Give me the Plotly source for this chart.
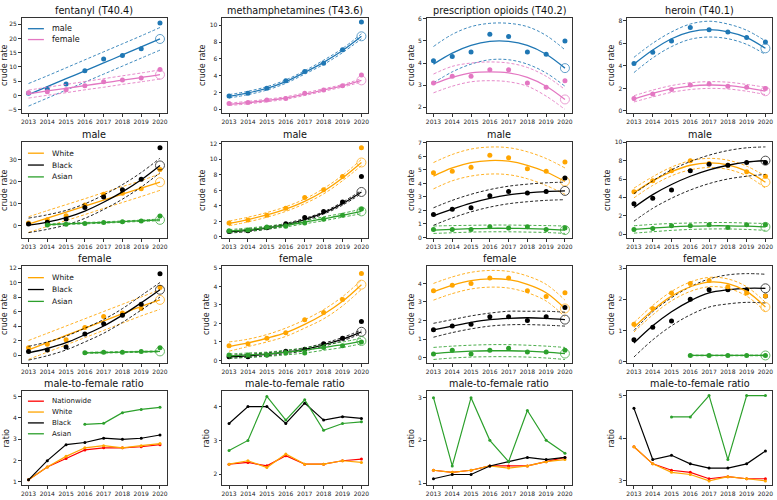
import plotly.graph_objects as go
from plotly.subplots import make_subplots

years = [2013, 2014, 2015, 2016, 2017, 2018, 2019, 2020]
years_16 = [2016, 2017, 2018, 2019, 2020]
years_15 = [2015, 2016, 2017, 2018, 2019, 2020]
years_14 = [2014, 2015, 2016, 2017, 2018, 2019, 2020]

BLUE = '#1f77b4'; PINK = '#e377c2'; ORANGE = '#ffa500'; BLACK = '#000000'
GREEN = '#2ca02c'; RED = '#ff0000'

col_titles = ['fentanyl (T40.4)', 'methamphetamines (T43.6)', 'prescription opioids (T40.2)', 'heroin (T40.1)']
row_titles = ['male', 'female', 'male-to-female ratio']

# ---------- Row 1: male / female ----------
fen_m_pts = [0.8, 2.3, 4.0, 8.7, 12.8, 14.0, 16.4, 25.4]
fen_m_fit = [0.3, 3.1, 5.9, 8.6, 11.4, 14.2, 17.0, 19.8]
fen_m_lo = [-3.7, -0.9, 1.9, 4.7, 7.5, 10.3, 13.1, 15.9]
fen_m_hi = [4.2, 6.9, 9.7, 12.5, 15.3, 18.1, 20.9, 23.8]
fen_f_pts = [1.0, 1.3, 2.0, 3.4, 4.8, 5.4, 6.1, 9.1]
fen_f_fit = [0.6, 1.6, 2.5, 3.5, 4.4, 5.4, 6.3, 7.3]
fen_f_lo = [-0.9, 0.1, 1.0, 2.0, 2.9, 3.9, 4.8, 5.8]
fen_f_hi = [1.9, 2.9, 3.9, 4.9, 5.9, 6.9, 7.9, 9.0]

met_m_pts = [1.6, 1.9, 2.5, 3.4, 4.5, 5.5, 7.1, 10.4]
met_m_fit = [1.55, 1.95, 2.5, 3.3, 4.4, 5.6, 7.0, 8.7]
met_m_lo = [1.35, 1.75, 2.3, 3.1, 4.2, 5.35, 6.75, 8.4]
met_m_hi = [1.75, 2.15, 2.7, 3.5, 4.6, 5.85, 7.25, 9.0]
met_f_pts = [0.7, 0.8, 1.1, 1.3, 1.9, 2.3, 2.8, 4.1]
met_f_fit = [0.6, 0.8, 1.05, 1.35, 1.8, 2.3, 2.8, 3.45]
met_f_lo = [0.45, 0.65, 0.9, 1.2, 1.65, 2.15, 2.65, 3.25]
met_f_hi = [0.75, 0.95, 1.2, 1.5, 1.95, 2.45, 2.95, 3.65]

rx_m_pts = [4.1, 4.3, 4.5, 5.3, 5.2, 4.5, 4.4, 5.0]
rx_m_fit = [3.95, 4.45, 4.8, 4.98, 4.98, 4.8, 4.4, 3.77]
rx_m_lo = [3.1, 3.6, 3.95, 4.15, 4.15, 3.95, 3.55, 2.95]
rx_m_hi = [4.75, 5.3, 5.65, 5.8, 5.8, 5.65, 5.25, 4.6]
rx_f_pts = [3.1, 3.4, 3.4, 3.7, 3.7, 3.1, 2.9, 3.2]
rx_f_fit = [3.05, 3.35, 3.55, 3.6, 3.55, 3.35, 2.95, 2.35]
rx_f_lo = [2.65, 2.95, 3.15, 3.2, 3.15, 2.95, 2.5, 1.9]
rx_f_hi = [3.5, 3.85, 4.0, 4.05, 4.0, 3.8, 3.4, 2.8]

her_m_pts = [4.2, 5.2, 6.2, 7.4, 7.2, 7.0, 6.5, 6.1]
her_m_fit = [4.15, 5.4, 6.4, 7.0, 7.2, 7.0, 6.5, 5.55]
her_m_lo = [3.4, 4.7, 5.7, 6.35, 6.55, 6.4, 5.9, 5.0]
her_m_hi = [4.75, 6.0, 7.0, 7.7, 7.95, 7.7, 7.15, 6.2]
her_f_pts = [1.1, 1.5, 1.9, 2.3, 2.4, 2.2, 2.1, 2.0]
her_f_fit = [1.05, 1.55, 1.95, 2.2, 2.3, 2.25, 2.05, 1.75]
her_f_lo = [0.8, 1.25, 1.65, 1.9, 2.0, 1.95, 1.75, 1.45]
her_f_hi = [1.35, 1.85, 2.25, 2.5, 2.6, 2.55, 2.35, 2.1]

# ---------- Row 2: male by race ----------
fen_mw_pts = [1.2, 2.6, 4.5, 9.4, 14.2, 14.7, 16.7, 25.5]
fen_mw_fit = [0.7, 3.4, 6.1, 8.8, 11.6, 14.3, 17.0, 19.7]
fen_mw_lo = [-3.1, -0.4, 2.3, 5.0, 7.8, 10.5, 13.2, 16.0]
fen_mw_hi = [4.0, 6.8, 9.5, 12.2, 15.0, 17.7, 20.4, 23.5]
fen_mb_pts = [0.7, 1.5, 3.0, 8.2, 13.0, 16.3, 21.0, 35.3]
fen_mb_fit = [0.2, 1.6, 3.6, 6.6, 10.6, 15.3, 20.8, 27.3]
fen_mb_lo = [-3.2, -1.7, 0.3, 3.3, 7.3, 12.0, 17.5, 24.0]
fen_mb_hi = [3.4, 4.9, 6.9, 9.9, 13.9, 18.6, 24.1, 30.6]
fen_ma_pts = [0.3, 0.6, 1.0, 1.4, 1.7, 2.1, 4.3]
fen_ma_fit = [0.4, 0.8, 1.1, 1.4, 1.8, 2.2, 2.6]
fen_ma_lo = [0.1, 0.5, 0.8, 1.1, 1.5, 1.9, 2.2]
fen_ma_hi = [0.7, 1.1, 1.4, 1.7, 2.1, 2.5, 3.0]

met_mw_pts = [1.8, 2.2, 2.8, 3.7, 5.1, 6.1, 7.8, 11.5]
met_mw_fit = [1.75, 2.25, 2.85, 3.6, 4.6, 5.9, 7.6, 9.6]
met_mw_lo = [1.45, 1.95, 2.55, 3.3, 4.3, 5.55, 7.25, 9.2]
met_mw_hi = [2.05, 2.55, 3.15, 3.9, 4.9, 6.25, 7.95, 10.0]
met_mb_pts = [0.7, 0.8, 1.2, 1.7, 2.5, 3.3, 4.5, 7.8]
met_mb_fit = [0.65, 0.85, 1.15, 1.6, 2.25, 3.1, 4.3, 5.8]
met_mb_lo = [0.5, 0.7, 1.0, 1.45, 2.1, 2.95, 4.1, 5.6]
met_mb_hi = [0.8, 1.0, 1.3, 1.75, 2.4, 3.25, 4.5, 6.0]
met_ma_pts = [0.8, 0.9, 1.3, 1.4, 1.8, 2.3, 2.8, 3.6]
met_ma_fit = [0.75, 0.95, 1.2, 1.5, 1.9, 2.35, 2.8, 3.3]
met_ma_lo = [0.55, 0.75, 1.0, 1.3, 1.7, 2.1, 2.55, 3.0]
met_ma_hi = [0.95, 1.15, 1.4, 1.7, 2.1, 2.6, 3.05, 3.6]

rx_mw_pts = [4.8, 4.9, 5.2, 6.1, 5.9, 5.1, 4.9, 5.6]
rx_mw_fit = [4.55, 5.15, 5.55, 5.7, 5.65, 5.35, 4.85, 4.15]
rx_mw_lo = [3.6, 4.2, 4.55, 4.7, 4.65, 4.35, 3.85, 3.2]
rx_mw_hi = [5.55, 6.15, 6.55, 6.7, 6.65, 6.35, 5.85, 5.15]
rx_mb_pts = [1.7, 2.1, 2.2, 3.1, 3.4, 3.3, 3.4, 4.4]
rx_mb_fit = [1.6, 2.1, 2.55, 2.9, 3.15, 3.3, 3.4, 3.45]
rx_mb_lo = [0.9, 1.45, 1.9, 2.25, 2.5, 2.65, 2.75, 2.8]
rx_mb_hi = [2.2, 2.75, 3.2, 3.55, 3.8, 3.95, 4.05, 4.1]
rx_ma_pts = [0.6, 0.6, 0.6, 0.8, 0.7, 0.8, 0.6, 0.7]
rx_ma_fit = [0.55, 0.6, 0.65, 0.68, 0.68, 0.66, 0.62, 0.55]
rx_ma_lo = [0.3, 0.35, 0.4, 0.42, 0.42, 0.4, 0.37, 0.3]
rx_ma_hi = [0.85, 0.88, 0.9, 0.92, 0.92, 0.9, 0.88, 0.85]

her_mw_pts = [4.6, 5.8, 6.9, 8.0, 7.7, 7.5, 6.8, 6.3]
her_mw_fit = [4.5, 5.8, 6.8, 7.5, 7.75, 7.55, 6.85, 5.65]
her_mw_lo = [3.95, 5.3, 6.35, 7.0, 7.25, 7.05, 6.35, 5.0]
her_mw_hi = [5.0, 6.25, 7.3, 8.0, 8.25, 8.05, 7.4, 6.3]
her_mb_pts = [3.3, 3.9, 4.8, 6.9, 7.6, 7.5, 7.8, 7.8]
her_mb_fit = [2.9, 4.3, 5.4, 6.3, 7.0, 7.5, 7.85, 8.0]
her_mb_lo = [1.4, 2.8, 3.9, 4.8, 5.5, 6.0, 6.3, 6.5]
her_mb_hi = [4.4, 5.8, 7.0, 7.9, 8.6, 9.1, 9.4, 9.5]
her_ma_pts = [0.5, 0.6, 0.9, 0.9, 1.0, 0.7, 1.0, 1.0]
her_ma_fit = [0.5, 0.65, 0.78, 0.86, 0.9, 0.9, 0.86, 0.78]
her_ma_lo = [0.1, 0.25, 0.4, 0.5, 0.55, 0.55, 0.5, 0.4]
her_ma_hi = [0.9, 1.05, 1.15, 1.2, 1.25, 1.25, 1.2, 1.15]

# ---------- Row 3: female by race ----------
fen_fw_pts = [1.0, 1.5, 2.1, 3.8, 5.3, 5.8, 6.4, 9.3]
fen_fw_fit = [0.7, 1.7, 2.7, 3.7, 4.7, 5.7, 6.7, 7.6]
fen_fw_lo = [-0.6, 0.4, 1.4, 2.4, 3.4, 4.4, 5.4, 6.3]
fen_fw_hi = [2.0, 3.0, 4.0, 5.0, 6.0, 7.0, 8.0, 9.0]
fen_fb_pts = [0.5, 0.7, 1.1, 2.9, 4.3, 5.5, 7.0, 11.2]
fen_fb_fit = [0.3, 0.9, 1.7, 2.8, 4.0, 5.5, 7.2, 9.0]
fen_fb_lo = [-0.7, -0.1, 0.7, 1.8, 3.0, 4.5, 6.2, 8.0]
fen_fb_hi = [1.2, 1.8, 2.6, 3.7, 4.9, 6.4, 8.2, 10.0]
fen_fa_pts = [0.3, 0.4, 0.4, 0.5, 1.0]
fen_fa_fit = [0.3, 0.35, 0.4, 0.45, 0.5]
fen_fa_lo = [0.23, 0.28, 0.33, 0.38, 0.43]
fen_fa_hi = [0.37, 0.42, 0.47, 0.52, 0.57]

met_fw_pts = [0.8, 0.9, 1.2, 1.5, 2.2, 2.6, 3.3, 4.7]
met_fw_fit = [0.75, 0.95, 1.2, 1.5, 1.95, 2.5, 3.2, 4.1]
met_fw_lo = [0.5, 0.75, 1.0, 1.3, 1.75, 2.25, 2.95, 3.85]
met_fw_hi = [1.0, 1.15, 1.4, 1.75, 2.2, 2.75, 3.45, 4.35]
met_fb_pts = [0.2, 0.2, 0.3, 0.5, 0.6, 0.9, 1.2, 2.1]
met_fb_fit = [0.2, 0.25, 0.33, 0.45, 0.6, 0.85, 1.15, 1.55]
met_fb_lo = [0.12, 0.17, 0.25, 0.37, 0.52, 0.77, 1.06, 1.45]
met_fb_hi = [0.28, 0.33, 0.41, 0.53, 0.68, 0.93, 1.24, 1.65]
met_fa_pts = [0.3, 0.3, 0.3, 0.4, 0.4, 0.7, 0.8, 1.0]
met_fa_fit = [0.25, 0.3, 0.35, 0.45, 0.55, 0.7, 0.85, 1.05]
met_fa_lo = [0.12, 0.17, 0.22, 0.3, 0.4, 0.55, 0.7, 0.9]
met_fa_hi = [0.35, 0.4, 0.45, 0.55, 0.68, 0.85, 1.0, 1.2]

rx_fw_pts = [3.6, 3.9, 4.0, 4.3, 4.3, 3.6, 3.3, 3.5]
rx_fw_fit = [3.55, 3.9, 4.15, 4.25, 4.2, 3.95, 3.5, 2.65]
rx_fw_lo = [3.1, 3.45, 3.7, 3.8, 3.75, 3.5, 3.05, 2.2]
rx_fw_hi = [4.0, 4.35, 4.6, 4.7, 4.65, 4.4, 3.95, 3.1]
rx_fb_pts = [1.5, 1.7, 1.8, 2.2, 2.2, 2.0, 2.2, 2.7]
rx_fb_fit = [1.5, 1.7, 1.9, 2.05, 2.12, 2.15, 2.12, 2.05]
rx_fb_lo = [1.1, 1.35, 1.55, 1.7, 1.77, 1.78, 1.75, 1.7]
rx_fb_hi = [1.85, 2.05, 2.25, 2.4, 2.5, 2.5, 2.5, 2.45]
rx_fa_pts = [0.2, 0.4, 0.2, 0.4, 0.5, 0.3, 0.3, 0.4]
rx_fa_fit = [0.22, 0.3, 0.35, 0.37, 0.37, 0.35, 0.3, 0.22]
rx_fa_lo = [-0.1, -0.02, 0.03, 0.05, 0.05, 0.03, -0.02, -0.1]
rx_fa_hi = [0.55, 0.62, 0.67, 0.7, 0.7, 0.67, 0.62, 0.55]

her_fw_pts = [1.2, 1.7, 2.2, 2.5, 2.6, 2.4, 2.2, 2.1]
her_fw_fit = [1.1, 1.65, 2.1, 2.4, 2.55, 2.5, 2.25, 1.75]
her_fw_lo = [0.95, 1.5, 1.95, 2.25, 2.4, 2.35, 2.1, 1.6]
her_fw_hi = [1.25, 1.8, 2.25, 2.55, 2.7, 2.65, 2.4, 1.9]
her_fb_pts = [0.7, 1.1, 1.3, 2.0, 2.3, 2.3, 2.3, 2.1]
her_fb_fit = [0.6, 1.15, 1.6, 1.95, 2.2, 2.3, 2.35, 2.35]
her_fb_lo = [0.15, 0.7, 1.15, 1.5, 1.75, 1.85, 1.9, 1.88]
her_fb_hi = [1.0, 1.6, 2.05, 2.4, 2.65, 2.78, 2.82, 2.8]
her_fa_pts = [0.2, 0.2, 0.2, 0.2, 0.2]
her_fa_fit = [0.2, 0.2, 0.2, 0.2, 0.2]
her_fa_lo = [0.19, 0.19, 0.19, 0.19, 0.19]
her_fa_hi = [0.21, 0.21, 0.21, 0.21, 0.21]

# ---------- Row 4: male-to-female ratio ----------
fen_r_nat = [1.1, 1.7, 2.1, 2.5, 2.6, 2.6, 2.65, 2.75]
fen_r_w = [1.1, 1.7, 2.2, 2.6, 2.7, 2.6, 2.7, 2.8]
fen_r_b = [1.1, 2.0, 2.75, 2.85, 3.05, 3.0, 3.05, 3.2]
fen_r_a = [3.7, 3.75, 4.25, 4.4, 4.5]
met_r_nat = [2.3, 2.35, 2.25, 2.55, 2.3, 2.3, 2.4, 2.45]
met_r_w = [2.3, 2.4, 2.2, 2.6, 2.3, 2.3, 2.4, 2.35]
met_r_b = [3.5, 4.0, 4.0, 3.5, 4.1, 3.6, 3.7, 3.65]
met_r_a = [2.7, 3.0, 4.3, 3.6, 4.2, 3.3, 3.5, 3.55]
rx_r_nat = [1.3, 1.25, 1.3, 1.4, 1.4, 1.4, 1.5, 1.6]
rx_r_w = [1.3, 1.25, 1.3, 1.4, 1.35, 1.4, 1.5, 1.55]
rx_r_b = [1.1, 1.2, 1.2, 1.4, 1.5, 1.6, 1.55, 1.6]
rx_r_a = [3.0, 1.4, 3.0, 2.0, 1.5, 2.7, 2.0, 1.7]
her_r_nat = [3.8, 3.4, 3.25, 3.2, 3.05, 3.1, 3.05, 3.05]
her_r_w = [3.8, 3.4, 3.2, 3.15, 3.0, 3.1, 3.05, 3.0]
her_r_b = [4.7, 3.5, 3.6, 3.4, 3.3, 3.3, 3.4, 3.7]
her_r_a = [4.5, 4.5, 5.0, 3.5, 5.0, 5.0]

# y-axis ranges per panel (row, col)
y_ranges = {
    (1, 1): [-6, 27.2], (1, 2): [-0.4, 10.9], (1, 3): [1.75, 6.05], (1, 4): [-0.15, 8.25],
    (2, 1): [-5.7, 37.8], (2, 2): [-0.15, 12.2], (2, 3): [-0.05, 7.05], (2, 4): [-0.45, 10.0],
    (3, 1): [-1.05, 12.3], (3, 2): [-0.12, 5.12], (3, 3): [-0.27, 4.95], (3, 4): [-0.03, 3.07],
    (4, 1): [0.85, 5.25], (4, 2): [1.68, 4.45], (4, 3): [0.95, 3.15], (4, 4): [2.9, 5.1],
}
y_dtick = {
    (1, 1): 5, (1, 2): 2, (1, 3): 1, (1, 4): 2,
    (2, 1): 10, (2, 2): 2, (2, 3): 1, (2, 4): 2,
    (3, 1): 2, (3, 2): 1, (3, 3): 1, (3, 4): 1,
    (4, 1): 1, (4, 2): 1, (4, 3): 1, (4, 4): 1,
}

FONT = 'DejaVu Sans'
DASH = '3px,2px'
fig = make_subplots(rows=4, cols=4)

col_px = [(21, 166), (222, 368), (427, 572), (628, 773)]
row_px = [(14, 110), (140, 237), (265, 363), (392, 487)]
W, H = 777, 500


def add_fit_series(r, c, color, xs, pts, fit, lo, hi):
    for band in (lo, hi):
        fig.add_trace(go.Scatter(x=xs, y=band, mode='lines', line=dict(color=color, width=1, dash=DASH, shape='spline'),
                                 opacity=0.85, showlegend=False, hoverinfo='skip'), row=r, col=c)
    fig.add_trace(go.Scatter(x=xs, y=fit, mode='lines', line=dict(color=color, width=1.3, shape='spline'),
                             showlegend=False), row=r, col=c)
    fig.add_trace(go.Scatter(x=xs, y=pts, mode='markers', marker=dict(color=color, size=5),
                             showlegend=False), row=r, col=c)
    fig.add_trace(go.Scatter(x=xs[-1:], y=fit[-1:], mode='markers',
                             marker=dict(color='rgba(0,0,0,0)', size=9, line=dict(color=color, width=1)),
                             opacity=0.7, showlegend=False), row=r, col=c)


row1 = [
    [(BLUE, years, fen_m_pts, fen_m_fit, fen_m_lo, fen_m_hi), (PINK, years, fen_f_pts, fen_f_fit, fen_f_lo, fen_f_hi)],
    [(BLUE, years, met_m_pts, met_m_fit, met_m_lo, met_m_hi), (PINK, years, met_f_pts, met_f_fit, met_f_lo, met_f_hi)],
    [(BLUE, years, rx_m_pts, rx_m_fit, rx_m_lo, rx_m_hi), (PINK, years, rx_f_pts, rx_f_fit, rx_f_lo, rx_f_hi)],
    [(BLUE, years, her_m_pts, her_m_fit, her_m_lo, her_m_hi), (PINK, years, her_f_pts, her_f_fit, her_f_lo, her_f_hi)],
]
row2 = [
    [(ORANGE, years, fen_mw_pts, fen_mw_fit, fen_mw_lo, fen_mw_hi), (BLACK, years, fen_mb_pts, fen_mb_fit, fen_mb_lo, fen_mb_hi),
     (GREEN, years_14, fen_ma_pts, fen_ma_fit, fen_ma_lo, fen_ma_hi)],
    [(ORANGE, years, met_mw_pts, met_mw_fit, met_mw_lo, met_mw_hi), (BLACK, years, met_mb_pts, met_mb_fit, met_mb_lo, met_mb_hi),
     (GREEN, years, met_ma_pts, met_ma_fit, met_ma_lo, met_ma_hi)],
    [(ORANGE, years, rx_mw_pts, rx_mw_fit, rx_mw_lo, rx_mw_hi), (BLACK, years, rx_mb_pts, rx_mb_fit, rx_mb_lo, rx_mb_hi),
     (GREEN, years, rx_ma_pts, rx_ma_fit, rx_ma_lo, rx_ma_hi)],
    [(ORANGE, years, her_mw_pts, her_mw_fit, her_mw_lo, her_mw_hi), (BLACK, years, her_mb_pts, her_mb_fit, her_mb_lo, her_mb_hi),
     (GREEN, years, her_ma_pts, her_ma_fit, her_ma_lo, her_ma_hi)],
]
row3 = [
    [(ORANGE, years, fen_fw_pts, fen_fw_fit, fen_fw_lo, fen_fw_hi), (BLACK, years, fen_fb_pts, fen_fb_fit, fen_fb_lo, fen_fb_hi),
     (GREEN, years_16, fen_fa_pts, fen_fa_fit, fen_fa_lo, fen_fa_hi)],
    [(ORANGE, years, met_fw_pts, met_fw_fit, met_fw_lo, met_fw_hi), (BLACK, years, met_fb_pts, met_fb_fit, met_fb_lo, met_fb_hi),
     (GREEN, years, met_fa_pts, met_fa_fit, met_fa_lo, met_fa_hi)],
    [(ORANGE, years, rx_fw_pts, rx_fw_fit, rx_fw_lo, rx_fw_hi), (BLACK, years, rx_fb_pts, rx_fb_fit, rx_fb_lo, rx_fb_hi),
     (GREEN, years, rx_fa_pts, rx_fa_fit, rx_fa_lo, rx_fa_hi)],
    [(BLACK, years, her_fb_pts, her_fb_fit, her_fb_lo, her_fb_hi), (ORANGE, years, her_fw_pts, her_fw_fit, her_fw_lo, her_fw_hi),
     (GREEN, years_16, her_fa_pts, her_fa_fit, her_fa_lo, her_fa_hi)],
]
row4 = [
    [(RED, years, fen_r_nat), (ORANGE, years, fen_r_w), (BLACK, years, fen_r_b), (GREEN, years_16, fen_r_a)],
    [(RED, years, met_r_nat), (ORANGE, years, met_r_w), (BLACK, years, met_r_b), (GREEN, years, met_r_a)],
    [(RED, years, rx_r_nat), (ORANGE, years, rx_r_w), (BLACK, years, rx_r_b), (GREEN, years, rx_r_a)],
    [(RED, years, her_r_nat), (ORANGE, years, her_r_w), (BLACK, years, her_r_b), (GREEN, years_15, her_r_a)],
]

for ri, rowdata in enumerate([row1, row2, row3]):
    for ci, series in enumerate(rowdata):
        for (color, xs, pts, fit, lo, hi) in series:
            add_fit_series(ri + 1, ci + 1, color, xs, pts, fit, lo, hi)

for ci, series in enumerate(row4):
    for (color, xs, vals) in series:
        fig.add_trace(go.Scatter(x=xs, y=vals, mode='lines+markers', line=dict(color=color, width=1.2),
                                 marker=dict(color=color, size=3), showlegend=False), row=4, col=ci + 1)

annotations = []
shapes = []
for ri in range(4):
    for ci in range(4):
        idx = ri * 4 + ci + 1
        xa = 'xaxis' if idx == 1 else f'xaxis{idx}'
        ya = 'yaxis' if idx == 1 else f'yaxis{idx}'
        x0, x1 = col_px[ci]
        y0, y1 = row_px[ri]
        fig.layout[xa].update(domain=[x0 / W, x1 / W], range=[2012.65, 2020.35], tickmode='array', tickvals=years,
                              ticktext=[str(y) for y in years], showline=True, mirror=True, linecolor='#333',
                              linewidth=0.8, ticks='outside', ticklen=3, tickwidth=0.8, tickcolor='#333',
                              showgrid=False, zeroline=False, tickfont=dict(size=6, family=FONT, color='#222'))
        fig.layout[ya].update(domain=[1 - y1 / H, 1 - y0 / H], range=y_ranges[(ri + 1, ci + 1)],
                              dtick=y_dtick[(ri + 1, ci + 1)], tick0=0, showline=True, mirror=True, linecolor='#333',
                              linewidth=0.8, ticks='outside', ticklen=3, tickwidth=0.8, tickcolor='#333',
                              showgrid=False, zeroline=False, tickfont=dict(size=6, family=FONT, color='#222'),
                              title=dict(text='ratio' if ri == 3 else 'crude rate', standoff=2,
                                         font=dict(size=8, family=FONT, color='#222')))
        title = col_titles[ci] if ri == 0 else row_titles[ri - 1]
        annotations.append(dict(text=title, x=(x0 + x1) / 2 / W, y=1 - y0 / H, xref='paper', yref='paper',
                                xanchor='center', yanchor='bottom', yshift=0, showarrow=False,
                                font=dict(size=9.7, family=FONT, color='#111')))

# legends (drawn as line samples + labels)
legend_items = [
    ([('male', BLUE, 25), ('female', PINK, 36)], 8),
    ([('White', ORANGE, 151), ('Black', BLACK, 163), ('Asian', GREEN, 175)], 7.5),
    ([('White', ORANGE, 277), ('Black', BLACK, 289), ('Asian', GREEN, 301)], 7.5),
    ([('Nationwide', RED, 402), ('White', ORANGE, 413), ('Black', BLACK, 424), ('Asian', GREEN, 435)], 7),
]
for items, fs in legend_items:
    for label, color, ypx in items:
        shapes.append(dict(type='line', xref='paper', yref='paper', x0=27 / W, x1=43 / W, y0=1 - ypx / H,
                           y1=1 - ypx / H, line=dict(color=color, width=1.3)))
        annotations.append(dict(text=label, x=49 / W, y=1 - ypx / H, xref='paper', yref='paper', xanchor='left',
                                yanchor='middle', showarrow=False, font=dict(size=fs, family=FONT, color='#111')))

fig.update_layout(width=W, height=H, margin=dict(l=0, r=0, t=0, b=0), plot_bgcolor='white', paper_bgcolor='white',
                  showlegend=False, annotations=annotations, shapes=shapes, font=dict(family=FONT))
fig.write_html('out.html', config={'displayModeBar': False},
               post_script="document.body.style.margin='0';document.body.style.overflow='hidden';")
